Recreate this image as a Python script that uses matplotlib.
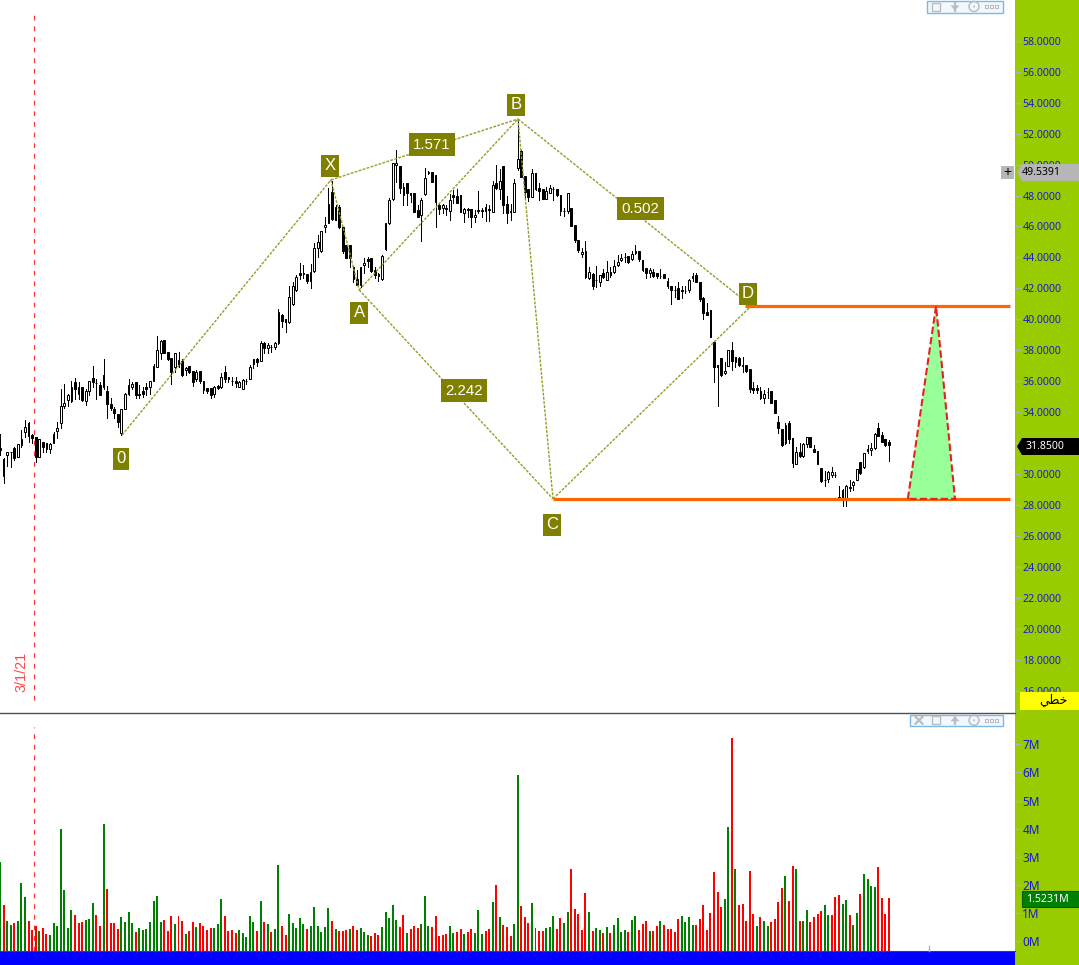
import matplotlib
matplotlib.use("Agg")
import matplotlib.pyplot as plt
from matplotlib.patches import Polygon, Rectangle, Circle

# candles, left to right
opens = [
    31.66, 30.97, 31.21, 31.44, 31.68, 31.12, 31.87, 32.74, 33.30, 32.50,
    32.37, 31.12, 32.05, 31.98, 31.64, 32.03, 32.80, 33.28, 34.40, 34.81,
    34.70, 35.93, 35.60, 35.60, 34.74, 35.34, 36.19, 35.90, 35.75, 36.40,
    35.37, 34.53, 34.20, 33.88, 32.67, 34.20, 35.17, 35.65, 35.93, 35.13,
    35.37, 35.62, 35.65, 36.03, 36.94, 37.80, 38.66, 37.87, 37.50, 36.94,
    37.37, 37.31, 36.72, 36.98, 36.66, 36.14, 36.66, 36.01, 35.54, 35.54,
    35.17, 35.69, 35.60, 36.57, 36.29, 36.02, 36.01, 35.65, 35.47, 36.04,
    36.16, 37.13, 37.41, 37.33, 38.45, 38.12, 38.21, 38.19, 38.49, 40.28,
    40.00, 39.85, 40.97, 41.90, 42.97, 42.98, 42.93, 42.50, 43.15, 44.59,
    44.44, 45.99, 46.21, 48.25, 47.28, 47.28, 45.94, 44.80, 44.80, 43.40,
    42.60, 42.19, 43.49, 43.92, 43.94, 43.19, 42.93, 42.60, 44.52, 46.20,
    47.75, 49.95, 49.91, 48.53, 48.79, 48.14, 48.14, 47.07, 46.72, 48.08,
    49.54, 49.52, 49.33, 47.39, 47.17, 47.21, 47.02, 48.03, 47.97, 48.01,
    46.85, 47.07, 47.13, 46.59, 47.07, 47.07, 47.24, 47.11, 46.96, 48.79,
    48.42, 49.91, 47.43, 47.02, 46.91, 49.76, 50.90, 49.26, 48.40, 47.88,
    49.44, 48.47, 48.40, 47.80, 48.19, 48.44, 48.40, 48.03, 47.01, 47.00,
    47.17, 46.07, 45.12, 44.23, 44.42, 42.65, 42.91, 42.55, 42.44, 43.02,
    42.57, 43.04, 43.04, 43.54, 43.82, 44.02, 44.10, 43.90, 44.27, 44.44,
    43.84, 43.30, 43.00, 43.04, 42.98, 42.83, 42.91, 42.48, 42.16, 41.90,
    42.03, 41.90, 41.86, 41.90, 42.70, 42.87, 42.39, 41.36, 40.45, 40.58,
    38.52, 37.05, 37.50, 36.51, 36.98, 38.02, 37.27, 37.52, 37.03, 37.05,
    36.77, 35.54, 35.54, 35.37, 34.89, 35.33, 35.37, 34.78, 33.34, 32.89,
    32.03, 33.27, 32.31, 30.67, 31.40, 31.16, 31.94, 32.37, 31.62, 31.51,
    30.37, 29.62, 29.66, 29.94, 29.94, 28.49, 28.96, 28.32, 29.07, 29.29,
    29.63, 30.75, 30.43, 31.47, 31.55, 31.66, 32.95, 32.52, 32.26, 32.05,
]
highs = [
    32.59, 31.01, 31.44, 31.45, 31.77, 31.92, 32.84, 33.49, 33.38, 32.59,
    32.37, 32.24, 32.09, 31.98, 32.03, 32.69, 33.38, 35.47, 35.82, 35.17,
    36.01, 36.19, 35.97, 35.60, 35.47, 36.03, 36.98, 36.12, 35.97, 37.43,
    35.69, 34.89, 34.35, 33.88, 34.22, 35.26, 36.14, 35.97, 35.97, 35.75,
    35.60, 35.86, 36.03, 37.09, 38.92, 38.66, 38.66, 37.91, 37.50, 37.84,
    37.87, 37.43, 36.94, 36.98, 36.66, 36.72, 36.66, 36.01, 35.54, 35.54,
    35.71, 35.75, 36.51, 36.98, 36.29, 36.25, 36.25, 36.03, 36.14, 36.12,
    37.05, 37.41, 37.48, 38.58, 38.51, 38.49, 38.34, 38.51, 40.65, 40.35,
    40.00, 42.16, 42.44, 42.85, 43.62, 43.51, 42.93, 43.56, 44.91, 45.45,
    45.69, 46.60, 48.47, 48.97, 47.39, 47.39, 45.99, 44.80, 44.80, 43.44,
    43.19, 43.40, 43.98, 44.00, 43.94, 43.40, 42.97, 44.16, 46.20, 47.82,
    50.08, 50.94, 49.91, 48.83, 48.79, 48.14, 48.14, 47.39, 47.82, 49.76,
    49.59, 49.52, 49.33, 47.43, 47.45, 47.39, 48.10, 48.36, 48.40, 48.03,
    47.17, 47.17, 47.13, 47.07, 48.31, 47.17, 47.43, 47.39, 48.96, 49.97,
    49.69, 49.91, 47.99, 47.43, 49.05, 52.88, 50.94, 49.26, 48.40, 49.69,
    49.44, 48.79, 48.40, 48.57, 48.68, 48.53, 48.40, 48.03, 47.17, 48.19,
    47.17, 46.07, 45.12, 44.59, 45.07, 43.36, 42.98, 43.45, 42.87, 43.23,
    43.77, 43.41, 43.84, 44.16, 44.22, 44.27, 44.10, 44.44, 44.81, 44.44,
    43.84, 43.30, 43.30, 43.23, 42.98, 43.28, 42.91, 42.65, 42.16, 42.16,
    42.44, 42.16, 42.16, 42.59, 42.98, 42.98, 42.44, 41.42, 41.04, 40.58,
    38.60, 37.05, 37.50, 37.27, 37.99, 38.52, 37.59, 37.59, 37.59, 37.05,
    36.77, 35.93, 35.75, 35.60, 35.43, 35.54, 35.37, 34.78, 33.75, 32.91,
    33.32, 33.43, 32.31, 31.77, 31.98, 31.98, 32.37, 32.41, 31.87, 31.51,
    30.37, 30.22, 30.22, 30.43, 30.15, 29.22, 29.05, 29.29, 29.61, 29.57,
    30.32, 30.80, 31.38, 31.87, 31.98, 32.63, 33.27, 32.74, 32.26, 32.20,
]
lows = [
    31.23, 29.44, 30.54, 30.47, 30.91, 31.08, 31.72, 32.37, 32.09, 32.03,
    30.80, 31.12, 31.44, 31.44, 31.38, 31.98, 32.35, 32.95, 34.29, 34.40,
    34.68, 34.83, 34.85, 34.74, 34.48, 35.13, 35.65, 34.85, 35.11, 35.47,
    33.64, 34.14, 33.60, 33.02, 32.50, 34.18, 35.13, 35.47, 34.89, 34.89,
    35.00, 35.11, 35.17, 36.01, 36.94, 37.43, 37.80, 37.37, 35.84, 36.57,
    36.94, 36.36, 36.40, 36.51, 35.69, 36.01, 35.90, 35.26, 35.22, 34.91,
    34.96, 35.47, 35.54, 35.97, 35.93, 35.75, 35.65, 35.60, 35.47, 35.82,
    36.16, 36.87, 36.98, 37.28, 37.84, 37.84, 37.91, 38.06, 38.39, 39.48,
    39.20, 39.74, 40.93, 41.85, 42.63, 42.65, 42.37, 42.00, 43.04, 44.05,
    44.38, 45.67, 46.21, 46.42, 46.42, 45.88, 44.31, 43.94, 43.36, 42.43,
    42.19, 42.11, 42.97, 43.40, 43.08, 42.65, 42.50, 42.54, 44.48, 46.16,
    47.71, 48.90, 48.19, 47.39, 47.39, 47.60, 46.96, 46.64, 45.08, 48.03,
    49.37, 48.90, 45.94, 46.79, 46.85, 46.74, 46.42, 47.50, 47.50, 46.91,
    46.27, 46.64, 45.94, 46.27, 46.85, 46.64, 46.38, 46.38, 46.96, 48.42,
    47.75, 46.85, 46.25, 46.42, 46.91, 49.65, 49.22, 47.88, 47.67, 47.88,
    48.36, 47.71, 47.75, 47.75, 48.14, 47.71, 47.99, 46.74, 46.70, 46.85,
    46.03, 45.02, 44.37, 44.05, 42.70, 42.61, 41.98, 42.11, 42.16, 42.65,
    42.57, 42.76, 43.00, 43.45, 43.75, 43.73, 43.62, 43.84, 44.23, 43.77,
    43.15, 42.65, 42.72, 42.76, 42.65, 42.65, 42.65, 42.03, 40.99, 41.47,
    41.29, 41.36, 41.68, 41.79, 42.48, 42.39, 41.21, 40.02, 40.30, 38.88,
    35.97, 34.40, 36.34, 36.45, 36.98, 36.73, 36.94, 36.98, 36.62, 36.62,
    35.32, 35.22, 35.22, 34.83, 34.57, 34.89, 34.57, 33.92, 32.63, 31.83,
    31.94, 31.98, 30.43, 30.63, 31.12, 31.12, 31.72, 31.77, 31.40, 30.65,
    29.51, 29.25, 29.51, 29.83, 29.83, 28.36, 27.95, 27.95, 28.90, 28.96,
    29.61, 30.00, 30.39, 31.34, 31.23, 31.62, 32.43, 32.05, 31.83, 30.86,
]
closes = [
    31.55, 29.89, 31.40, 31.40, 31.01, 31.92, 32.24, 33.06, 32.46, 32.33,
    31.12, 32.24, 31.72, 31.64, 31.96, 32.59, 32.95, 34.38, 34.57, 35.11,
    35.60, 35.52, 35.19, 34.81, 35.34, 35.99, 35.97, 35.86, 35.13, 35.65,
    34.53, 34.27, 33.97, 33.36, 34.18, 35.17, 35.75, 35.80, 35.09, 35.19,
    35.17, 35.50, 36.01, 36.98, 38.02, 38.60, 37.84, 37.43, 36.59, 37.80,
    36.98, 36.40, 36.83, 36.57, 35.97, 36.57, 36.01, 35.43, 35.39, 35.13,
    35.60, 35.54, 36.25, 36.14, 36.12, 35.98, 35.90, 35.97, 36.08, 36.02,
    36.90, 37.41, 37.26, 38.45, 38.12, 38.32, 38.19, 38.49, 40.50, 39.91,
    39.85, 41.42, 42.13, 42.72, 42.89, 42.96, 42.48, 43.04, 44.59, 44.98,
    45.69, 46.12, 47.44, 46.47, 46.42, 45.94, 44.41, 43.98, 43.94, 42.58,
    42.24, 43.40, 43.66, 43.79, 43.14, 42.86, 42.80, 44.11, 46.20, 47.71,
    50.08, 50.08, 48.47, 48.03, 48.14, 48.01, 46.96, 46.64, 47.71, 49.11,
    49.44, 48.90, 47.60, 47.15, 47.39, 47.11, 47.71, 47.93, 47.54, 46.96,
    47.15, 47.15, 46.59, 46.74, 46.98, 47.00, 47.02, 47.07, 48.66, 48.47,
    48.96, 47.39, 46.85, 46.91, 48.79, 50.34, 49.22, 48.21, 47.88, 49.44,
    48.42, 48.31, 47.78, 48.29, 48.47, 48.40, 48.01, 47.00, 46.99, 48.14,
    46.05, 45.12, 44.48, 44.38, 42.72, 43.04, 42.16, 42.53, 42.87, 42.72,
    43.08, 42.87, 43.43, 43.69, 43.95, 44.00, 43.73, 44.20, 44.40, 43.90,
    43.19, 42.98, 43.17, 42.83, 42.80, 42.81, 42.70, 42.16, 41.90, 41.88,
    41.34, 41.83, 41.84, 42.55, 42.83, 42.44, 41.29, 40.43, 40.30, 38.88,
    36.94, 36.94, 36.38, 36.68, 37.99, 37.33, 37.55, 37.05, 37.01, 36.68,
    35.50, 35.41, 35.41, 34.91, 35.15, 35.31, 34.61, 33.97, 33.00, 31.87,
    33.17, 32.26, 30.73, 31.40, 31.16, 31.94, 32.37, 31.77, 31.44, 30.65,
    29.55, 29.60, 30.11, 30.15, 29.92, 28.38, 28.32, 29.22, 29.18, 29.48,
    30.32, 30.09, 31.34, 31.59, 31.68, 32.59, 32.48, 32.09, 31.87, 31.85,
]

# volume in millions, same order
volumes = [
    2.81, 1.28, 0.71, 0.57, 0.64, 0.71, 2.06, 1.57, 0.71, 0.39,
    0.53, 0.36, 0.46, 0.25, 0.21, 0.64, 0.53, 3.99, 1.81, 0.46,
    1.10, 0.93, 0.64, 0.68, 0.75, 0.78, 1.35, 0.93, 0.53, 4.16,
    1.85, 0.64, 0.64, 0.43, 0.85, 0.68, 1.03, 0.64, 0.32, 0.46,
    0.39, 0.43, 0.68, 1.42, 1.60, 0.68, 0.75, 0.36, 0.89, 0.60,
    0.89, 0.71, 0.25, 0.36, 0.68, 0.50, 0.64, 0.53, 0.39, 0.46,
    0.46, 0.60, 1.49, 0.89, 0.36, 0.39, 0.28, 0.39, 0.28, 0.14,
    0.89, 0.68, 0.36, 1.42, 0.68, 0.60, 0.32, 0.43, 2.70, 0.53,
    0.21, 0.96, 0.64, 0.46, 0.82, 0.60, 0.43, 0.53, 1.21, 0.53,
    0.32, 0.50, 1.17, 0.71, 0.43, 0.36, 0.36, 0.39, 0.43, 0.53,
    0.39, 0.46, 0.32, 0.21, 0.18, 0.28, 0.21, 0.50, 1.03, 0.82,
    1.28, 0.75, 0.50, 0.93, 0.28, 0.43, 0.53, 0.46, 0.60, 1.60,
    0.53, 0.50, 0.89, 0.18, 0.21, 0.25, 0.53, 0.28, 0.32, 0.43,
    0.25, 0.32, 0.43, 0.28, 1.10, 0.25, 0.36, 0.43, 1.39, 1.99,
    0.85, 0.57, 0.50, 0.18, 0.60, 5.91, 1.25, 0.85, 0.64, 1.35,
    0.46, 0.36, 0.36, 0.46, 0.50, 0.89, 0.43, 0.82, 0.64, 1.03,
    2.56, 1.14, 0.96, 0.39, 1.71, 1.03, 0.36, 0.46, 0.39, 0.28,
    0.50, 0.28, 0.57, 0.82, 0.32, 0.39, 0.32, 0.75, 0.89, 0.39,
    0.60, 0.71, 0.36, 0.36, 0.53, 0.71, 0.57, 0.43, 0.43, 0.32,
    0.78, 0.89, 0.68, 0.85, 0.57, 0.57, 0.78, 1.28, 0.39, 1.00,
    2.46, 1.74, 1.21, 1.49, 4.06, 7.22, 2.56, 1.28, 1.32, 0.71,
    2.49, 0.96, 0.53, 0.85, 0.71, 0.53, 0.68, 0.78, 1.39, 1.89,
    2.31, 1.42, 2.67, 2.56, 0.71, 0.71, 1.10, 0.68, 0.85, 0.96,
    1.07, 1.28, 0.93, 0.93, 1.57, 1.64, 1.32, 1.46, 0.93, 0.57,
    1.00, 1.67, 2.38, 2.21, 1.96, 1.92, 2.63, 1.53, 0.96, 1.53,
]
vol_up = list(
    "grggrgggrr" "rgrrgggggg" "grrrgggrrg" "rrrrggggrg" "ggggggrrrg"
    "rrgrrgrrrr" "gggrrrrggg" "ggrgrgrggr" "rgggggrggg" "gggrgrrrgr"
    "rgggrrrggg" "ggrrgrrrgg" "grrrrrggrr" "grrgggrrgr" "grrrggrrrg"
    "rrrgggrrgg" "rrrrrgrggr" "grggggrggr" "rrgrrgrrrr" "rggggrrrrr"
    "rrrggrgrrr" "rrgrggrrrr" "grrgrggrrr" "rggrrrggrg" "grggggrrrr"
)

price_ticks = list(range(16, 60, 2))
volume_ticks = [0, 1, 2, 3, 4, 5, 6, 7]

# harmonic pattern, (bar index, price)
pat_0 = (34.2, 32.52)
pat_x = (92.7, 49.01)
pat_a = (100.6, 41.90)
pat_b = (145.1, 52.95)
pat_c = (154.9, 28.39)
pat_d = (210.4, 40.86)
pattern_legs = [(pat_0, pat_x), (pat_x, pat_a), (pat_a, pat_b), (pat_b, pat_c),
                (pat_c, pat_d), (pat_x, pat_b), (pat_a, pat_c), (pat_b, pat_d)]
point_labels = [("0", 33.9, 30.97), ("X", 92.4, 49.91), ("A", 100.6, 40.41),
                ("B", 144.5, 53.86), ("C", 154.6, 26.71), ("D", 209.5, 41.64)]
ratio_labels = [("1.571", 121.0, 51.27), ("2.242", 130.0, 35.37), ("0.502", 179.3, 47.13)]

target_low = 28.39
target_high = 40.86
triangle = [(254.3, target_low), (262.2, target_high), (267.5, target_low)]

date_index = 9.66
bar_px = 3.57
W, H = 1079, 965
PLOT_R = 1015
GREEN_BG = "#99CC00"
TICK_BLUE = "#1717D8"
OLIVE = "#808000"

plt.rcParams["font.family"] = ["Liberation Sans", "DejaVu Sans"]

fig = plt.figure(figsize=(W / 100, H / 100), dpi=100, facecolor=GREEN_BG)
ax = fig.add_axes([0, (H - 713) / H, PLOT_R / W, 713 / H])
vol_ax = fig.add_axes([0, (H - 951) / H, PLOT_R / W, (951 - 714) / H])
for a in (ax, vol_ax):
    a.set_xlim(0, PLOT_R / bar_px)
    a.set_facecolor("white")
    a.set_xticks([])
    for s in a.spines.values():
        s.set_visible(False)
    a.yaxis.tick_right()
    a.tick_params(axis="y", length=4.3, width=1, color="#B0B0B0", pad=1,
                  labelcolor=TICK_BLUE, labelsize=7.6)

ax.set_ylim(14.55, 60.64)
vol_ax.set_ylim(-0.356, 8.08)

ax.set_yticks(price_ticks)
# the 32 label sits fully under the last-price box, so it never shows
ax.set_yticklabels(["" if t == 32 else f"{t:.4f}" for t in price_ticks], family="Noto Sans")
vol_ax.set_yticks(volume_ticks)
vol_ax.set_yticklabels([f"{t}M" for t in volume_ticks], family="Noto Sans", fontsize=8.5)

# candles
idx = list(range(len(opens)))
ax.vlines(idx, lows, highs, color="black", lw=0.72, zorder=2, antialiased=False)
for i, o, c in zip(idx, opens, closes):
    face = "black" if c < o else "white"
    ax.bar(i, abs(c - o), bottom=min(o, c), width=0.5, facecolor=face,
           edgecolor="black", lw=0.72, zorder=3)

# volume bars
colors = ["#008000" if d == "g" else "#FF0000" for d in vol_up]
vol_ax.bar(idx, [v + 0.356 for v in volumes], bottom=-0.356, width=0.56,
           color=colors, zorder=2)

# date line
ax.vlines(date_index, 15.4, 59.74, color="#FF3030", lw=0.85, linestyles=(0, (4, 5)), zorder=4)
vol_ax.vlines(date_index, -0.356, 7.6, color="#FF3030", lw=0.85, linestyles=(0, (4, 5)), zorder=4)

# pattern
for p, q in pattern_legs:
    ax.plot([p[0], q[0]], [p[1], q[1]], color="#9A9A28", lw=1, ls=(0, (2, 1)), zorder=5)

ax.hlines(target_high, 208.7, 282.9, color="#FF6600", lw=2.3, zorder=5)
ax.hlines(target_low, pat_c[0], 282.9, color="#FF6600", lw=2.3, zorder=5)
ax.add_patch(Polygon(triangle, closed=True, facecolor="#99FF99", edgecolor="none", zorder=6))
ax.add_patch(Polygon(triangle, closed=True, fill=False, edgecolor="#E82020", lw=1.5,
                     ls=(0, (3.5, 1.5)), zorder=7))

for txt, xi, yi in point_labels:
    ax.text(xi, yi, txt, color="white", fontsize=12, ha="center", va="center", zorder=8,
            bbox=dict(boxstyle="square,pad=0.2", fc=OLIVE, ec="none"))
for txt, xi, yi in ratio_labels:
    ax.text(xi, yi, txt, color="white", fontsize=10.8, ha="center", va="center", zorder=8,
            bbox=dict(boxstyle="square,pad=0.3", fc=OLIVE, ec="none"))

ax.text(6.1, 17.2, "3/1/21", color="#FF4848", fontsize=10.4, rotation=90, ha="center", va="center")

# screen furniture, in pixels
ov = fig.add_axes([0, 0, 1, 1], facecolor="none")
ov.set_xlim(0, W)
ov.set_ylim(H, 0)
ov.axis("off")

ov.add_patch(Rectangle((0, 951), PLOT_R, 14, fc="#0000FF", ec="none"))
ov.plot([0, PLOT_R], [951, 951], color="#3030C0", lw=0.8)
ov.plot([0, PLOT_R], [713, 713], color="#505050", lw=1)
ov.plot([929, 929], [946, 951], color="#B0B0B0", lw=1)


def pentagon(x0, x1, y0, y1, fc):
    mid = (y0 + y1) / 2
    ov.add_patch(Polygon([(x0, mid), (x0 + 5, y0), (x1, y0), (x1, y1), (x0 + 5, y1)],
                         closed=True, fc=fc, ec="none"))


pentagon(1017, W, 164, 181, "#B6B6B6")
ov.text(1022, 172.5, "49.5391", color="black", fontsize=7.6, family="Noto Sans", va="center")
ov.add_patch(Rectangle((1001, 166), 13, 13, fc="#B6B6B6", ec="none"))
ov.text(1007.5, 172.2, "+", color="black", fontsize=10, ha="center", va="center")

pentagon(1017, W, 438, 455, "black")
ov.text(1026, 446.5, "31.8500", color="white", fontsize=7.6, family="Noto Sans", va="center")

ov.add_patch(Rectangle((1022, 891), W - 1022, 16, fc="#008000", ec="#006000", lw=0.8))
ov.text(1026, 899, "1.5231M", color="white", fontsize=7.6, family="Noto Sans", va="center")

ov.add_patch(Rectangle((1020, 692), W - 1020, 18, fc="#FFFF00", ec="none"))
ov.text(1053, 700.5, "\ufef2\ufec4\ufea7", color="black", fontsize=9, family="DejaVu Sans",
        ha="center", va="center")


def toolbar(x0, y0, y1, arrow_dir, close_x=None):
    ov.add_patch(Rectangle((x0, y0), 1003 - x0, y1 - y0, fc="#F2F8FF", ec="#7DB9E0", lw=1))
    mid = (y0 + y1) / 2
    gray = "#BDBDBD"
    if close_x is not None:
        ov.plot([close_x - 3.5, close_x + 3.5], [mid - 3.5, mid + 3.5], color=gray, lw=1.6)
        ov.plot([close_x - 3.5, close_x + 3.5], [mid + 3.5, mid - 3.5], color=gray, lw=1.6)
    ov.add_patch(Rectangle((932, mid - 4), 8, 8, fc="none", ec=gray, lw=1))
    ov.plot([955, 955], [mid - 4, mid + 4], color=gray, lw=1.6)
    ov.add_patch(Polygon([(950.5, mid - arrow_dir), (959.5, mid - arrow_dir), (955, mid + arrow_dir * 4)],
                         closed=True, fc=gray, ec="none"))
    ov.add_patch(Circle((974, mid), 5, fc="none", ec=gray, lw=1.1))
    ov.add_patch(Circle((974, mid), 1, fc=gray, ec="none"))
    for dx in (-5, 0, 5):
        ov.add_patch(Rectangle((991 + dx - 1.5, mid - 1.5), 3, 3, fc="none", ec=gray, lw=0.8))


toolbar(926.5, 0.5, 12.5, 1)
toolbar(909.5, 714.5, 726, -1, close_x=919)

fig.savefig("out.png", dpi=100, facecolor=fig.get_facecolor())
